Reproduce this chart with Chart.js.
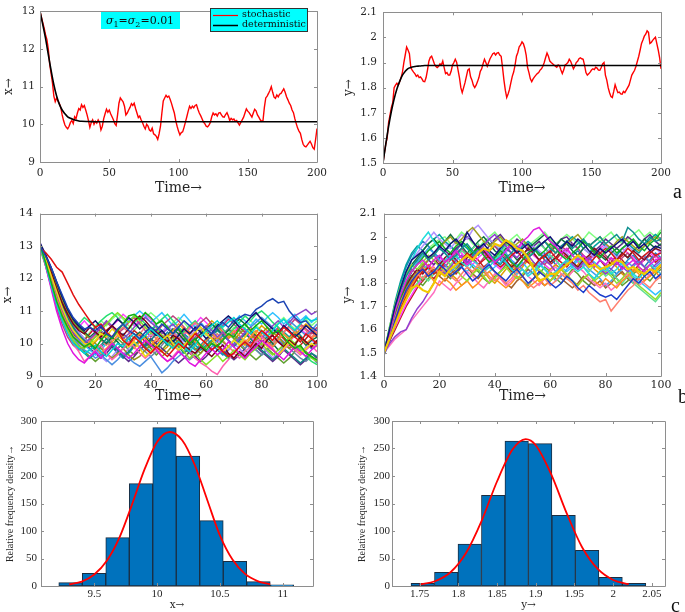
<!DOCTYPE html>
<html><head><meta charset="utf-8">
<script src="https://cdn.jsdelivr.net/npm/chart.js@4/dist/chart.umd.min.js"></script>
<style>
body{margin:0;background:#fff;width:685px;height:612px;overflow:hidden;position:relative}
canvas{position:absolute}
.lab{position:absolute;font-family:"Liberation Serif",serif;font-size:20px;line-height:20px;color:#111}
</style></head><body>
<canvas id="a1" width="335" height="200" style="left:0;top:0"></canvas>
<canvas id="a2" width="345" height="200" style="left:340px;top:0"></canvas>
<canvas id="b1" width="335" height="205" style="left:0;top:200px"></canvas>
<canvas id="b2" width="345" height="205" style="left:340px;top:200px"></canvas>
<canvas id="c1" width="335" height="207" style="left:0;top:405px"></canvas>
<canvas id="c2" width="345" height="207" style="left:340px;top:405px"></canvas>
<div class="lab" style="left:673px;top:181px">a</div>
<div class="lab" style="left:678px;top:386px">b</div>
<div class="lab" style="left:671px;top:595px">c</div>
<script>
// ---------- tick values ----------
const topXTicks = [0,50,100,150,200];
const a1YTicks = [9,10,11,12,13];
const a2YTicks = [1.5,1.6,1.7,1.8,1.9,2,2.1];
const midXTicks = [0,20,40,60,80,100];
const b1YTicks = [9,10,11,12,13,14];
const b2YTicks = [1.4,1.5,1.6,1.7,1.8,1.9,2,2.1];
const c1XTicks = [9.5,10,10.5,11];
const c2XTicks = [1.75,1.8,1.85,1.9,1.95,2,2.05];
const cYTicks = [0,50,100,150,200,250,300];

// ---------- panel a : single path, t = 0..200 step 1 ----------
const stochX = [
13.0,12.85,12.7,12.55,12.38,12.25,12.0,11.6,11.35,11.1,
10.75,10.6,10.7,10.62,10.55,10.45,10.25,10.1,9.98,9.92,
9.88,9.95,10.05,10.1,10.02,10.2,10.15,10.3,10.42,10.38,
10.52,10.45,10.5,10.38,10.25,10.1,9.92,10.05,10.12,10.0,
10.08,10.03,10.12,10.05,9.85,9.95,10.15,10.28,10.4,10.32,
10.38,10.28,10.2,10.12,10.02,9.97,10.25,10.56,10.7,10.65,
10.6,10.48,10.25,10.3,10.38,10.45,10.55,10.5,10.56,10.42,
10.3,10.18,10.22,10.12,10.05,9.95,9.88,10.0,9.95,9.85,
9.82,9.9,9.75,9.72,9.68,9.6,9.75,9.95,10.3,10.62,
10.7,10.77,10.72,10.75,10.66,10.55,10.42,10.3,10.1,9.95,
9.82,9.72,9.78,9.8,9.92,10.06,10.2,10.35,10.48,10.42,
10.48,10.44,10.5,10.52,10.4,10.3,10.23,10.15,10.06,10.02,
9.95,9.93,9.98,10.05,10.2,10.3,10.25,10.28,10.22,10.3,
10.31,10.25,10.2,10.19,10.26,10.31,10.22,10.1,10.16,10.12,
10.14,10.08,10.1,10.04,9.98,10.05,10.12,10.19,10.3,10.41,
10.35,10.31,10.25,10.19,10.3,10.4,10.36,10.25,10.19,10.12,
10.08,10.1,10.45,10.7,10.75,10.82,10.9,11.0,10.85,10.72,
10.69,10.78,10.73,10.8,10.82,10.88,10.94,10.85,10.73,10.65,
10.56,10.5,10.38,10.31,10.15,10.02,9.9,9.82,9.76,9.6,
9.47,9.42,9.4,9.45,9.5,9.55,9.48,9.38,9.34,9.6,
9.89];
const stochY = [
1.5,1.54,1.575,1.6,1.66,1.69,1.72,1.74,1.8,1.81,
1.818,1.81,1.824,1.84,1.862,1.9,1.93,1.962,1.95,1.935,
1.88,1.87,1.862,1.855,1.845,1.85,1.84,1.843,1.835,1.825,
1.824,1.84,1.87,1.905,1.92,1.925,1.91,1.894,1.885,1.88,
1.885,1.895,1.89,1.906,1.88,1.856,1.86,1.85,1.85,1.865,
1.89,1.9,1.913,1.9,1.87,1.84,1.8,1.78,1.8,1.82,
1.845,1.87,1.875,1.843,1.83,1.81,1.8,1.81,1.824,1.84,
1.865,1.875,1.895,1.913,1.9,1.885,1.9,1.915,1.925,1.935,
1.938,1.93,1.938,1.94,1.93,1.925,1.88,1.83,1.79,1.761,
1.775,1.793,1.82,1.845,1.862,1.89,1.925,1.94,1.963,1.97,
1.982,1.975,1.957,1.93,1.881,1.86,1.835,1.824,1.835,1.843,
1.85,1.856,1.86,1.87,1.875,1.885,1.9,1.92,1.938,1.925,
1.906,1.9,1.895,1.89,1.885,1.881,1.89,1.887,1.87,1.856,
1.87,1.89,1.894,1.9,1.913,1.905,1.89,1.875,1.885,1.9,
1.905,1.915,1.919,1.915,1.913,1.89,1.86,1.85,1.855,1.862,
1.87,1.875,1.872,1.881,1.878,1.87,1.869,1.88,1.895,1.9,
1.85,1.83,1.8,1.78,1.765,1.761,1.785,1.812,1.795,1.78,
1.782,1.775,1.774,1.785,1.78,1.79,1.8,1.81,1.83,1.85,
1.86,1.869,1.885,1.905,1.925,1.95,1.976,1.99,2.005,2.013,
2.026,2.02,1.976,1.98,1.988,1.995,2.001,1.975,1.95,1.92,
1.875];
const detT = [0,2,4,6,8,10,12,14,16,18,20,22,24,26,28,30,35,40,60,200];
const detX = [13,12.65,12.28,11.85,11.43,11.05,10.75,10.53,10.38,10.28,10.2,10.16,10.13,10.11,10.09,10.08,10.075,10.07,10.07,10.07];
const detY = [1.5,1.575,1.645,1.705,1.755,1.795,1.825,1.85,1.865,1.876,1.88,1.883,1.885,1.886,1.887,1.888,1.888,1.888,1.888,1.888];

// ---------- panel b : sample paths, t = 0..100 step 2 ----------
const tMid = [0,2,4,6,8,10,12,14,16,18,20,22,24,26,28,30,32,34,36,38,40,42,44,46,48,50,52,54,56,58,60,62,64,66,68,70,72,74,76,78,80,82,84,86,88,90,92,94,96,98,100];
const xRuns = [
[13.0,12.7,12.35,11.9,11.5,11.1,10.8,10.6,10.45,10.5, 10.4,10.55,10.3,10.2,10.45,10.6,10.4,10.3,10.15,10.35, 10.5,10.4,10.6,10.45,10.3,10.5,10.7,10.55,10.4,10.6, 10.45,10.3,10.5,10.65,10.5,10.7,10.8,10.9,10.85,11.05, 11.15,11.3,11.38,11.25,11.3,11.0,10.8,10.65,10.7,10.5, 10.4],
[13.05,12.5,11.9,11.3,10.85,10.5,10.2,10.05,9.9,10.0, 9.85,10.1,10.3,10.15,10.4,10.6,10.85,10.9,10.75,10.95, 10.8,10.6,10.7,10.5,10.3,10.45,10.2,10.0,10.15,9.95, 9.8,10.0,9.9,10.1,10.3,10.2,10.45,10.6,10.4,10.55, 10.7,10.5,10.3,10.4,10.2,10.0,9.85,9.95,9.7,9.6, 9.5],
[12.95,12.8,12.6,12.35,12.2,11.85,11.5,11.2,10.95,10.7, 10.5,10.6,10.35,10.2,10.4,10.1,9.95,10.2,10.05,9.85, 9.7,9.9,9.75,9.6,9.8,10.0,9.85,10.1,10.3,10.15, 10.0,9.8,9.95,9.75,9.6,9.7,9.9,10.05,9.9,10.2, 10.4,10.25,10.1,10.3,10.5,10.35,10.2,10.05,10.3,10.15, 10.0],
[13.0,12.45,11.8,11.2,10.7,10.3,10.0,9.85,9.7,9.8, 9.95,9.75,9.6,9.8,10.0,9.9,10.15,10.3,10.1,10.25, 10.45,10.3,10.15,10.0,9.85,10.05,9.9,9.75,9.95,10.2, 10.4,10.55,10.7,10.5,10.65,10.8,10.6,10.45,10.3,10.5, 10.35,10.2,10.4,10.6,10.75,10.55,10.4,10.6,10.8,10.7, 10.75],
[13.0,12.4,11.7,11.0,10.45,10.0,9.7,9.5,9.4,9.6, 9.75,9.55,9.8,10.0,9.85,9.7,9.55,9.7,9.9,10.1, 9.95,9.8,9.6,9.45,9.55,9.75,9.6,9.4,9.3,9.5, 9.7,9.85,9.65,9.8,10.05,9.9,9.7,9.55,9.75,9.9, 10.1,9.95,9.8,9.65,9.5,9.7,9.9,9.75,9.6,9.8, 9.95],
[13.0,12.6,12.1,11.6,11.1,10.7,10.4,10.2,10.0,9.95, 10.1,10.3,10.2,10.45,10.3,10.1,9.9,10.05,9.85,9.6, 9.75,9.9,10.1,10.25,10.0,9.8,9.95,10.15,10.35,10.5, 10.3,10.15,9.9,9.75,9.9,10.1,9.95,10.2,10.45,10.3, 10.1,9.9,9.8,9.65,9.85,10.05,9.9,9.7,9.85,10.0, 9.9],
[13.0,12.65,12.2,11.7,11.25,10.9,10.6,10.4,10.3,10.5, 10.35,10.2,10.4,10.55,10.4,10.25,10.45,10.7,10.85,10.7, 10.5,10.35,10.2,10.05,10.25,10.15,9.95,9.8,9.7,9.9, 9.75,9.6,9.8,9.95,9.7,9.55,9.75,9.6,9.8,10.0, 9.85,10.1,10.25,10.05,9.9,10.1,9.95,10.2,10.05,9.9, 10.1],
[13.1,12.75,12.35,11.9,11.45,11.05,10.75,10.55,10.4,10.55, 10.7,10.5,10.35,10.55,10.75,10.6,10.8,10.65,10.45,10.6, 10.4,10.25,10.4,10.2,10.05,10.25,10.45,10.3,10.5,10.35, 10.15,10.3,10.55,10.7,10.85,10.7,10.5,10.6,10.8,10.95, 10.75,10.6,10.45,10.3,10.55,10.4,10.2,10.35,10.55,10.4, 10.25],
[12.9,12.4,11.85,11.3,10.8,10.4,10.1,9.9,9.85,10.0, 10.2,10.4,10.6,10.8,10.95,10.8,10.65,10.85,10.7,10.5, 10.3,10.45,10.25,10.05,9.85,9.95,9.75,9.55,9.7,9.5, 9.35,9.5,9.65,9.45,9.6,9.8,9.65,9.5,9.7,9.85, 10.0,9.8,9.65,9.8,9.95,10.15,10.0,9.85,9.7,9.55, 9.45],
[13.0,12.5,11.9,11.3,10.8,10.35,10.0,9.75,9.45,9.6, 9.8,9.95,9.7,9.5,9.65,9.85,10.05,9.9,9.7,9.55, 9.7,9.85,9.6,9.45,9.6,9.8,9.95,9.75,9.55,9.4, 9.3,9.15,9.05,9.3,9.5,9.7,9.55,9.75,9.9,10.05, 10.2,10.0,9.85,9.65,9.8,10.0,9.8,9.65,9.8,9.95, 9.75],
[13.05,12.6,12.1,11.55,11.05,10.65,10.35,10.15,10.0,10.15, 10.3,10.5,10.7,10.55,10.35,10.15,10.3,10.5,10.65,10.8, 10.65,10.5,10.3,10.45,10.6,10.4,10.25,10.05,10.2,10.4, 10.55,10.4,10.2,10.35,10.1,9.95,10.15,10.35,10.5,10.3, 10.15,10.35,10.55,10.7,10.5,10.65,10.85,10.95,11.05,10.9, 11.0],
[13.0,12.55,12.0,11.45,10.95,10.55,10.25,10.05,9.9,10.05, 9.9,9.7,9.85,10.05,10.25,10.1,9.9,10.1,10.3,10.15, 9.95,10.15,10.35,10.2,10.4,10.6,10.45,10.25,10.05,9.9, 10.1,10.3,10.15,10.35,10.2,10.4,10.25,10.05,10.2,10.4, 10.25,10.05,9.9,10.1,10.3,10.15,10.35,10.2,10.0,10.15, 10.3],
[13.0,12.6,12.15,11.65,11.2,10.8,10.5,10.25,10.1,9.95, 9.8,9.95,10.15,9.95,9.8,9.6,9.75,9.95,10.1,9.9, 10.1,10.3,10.15,9.95,10.1,9.9,9.7,9.85,10.05,9.9, 10.1,10.25,10.4,10.25,10.1,9.9,10.1,10.3,10.15,9.95, 9.8,9.65,9.5,9.65,9.85,9.7,9.55,9.4,9.55,9.7, 9.6],
[12.95,12.6,12.2,11.75,11.3,10.95,10.65,10.45,10.3,10.15, 10.0,9.85,9.7,9.55,9.7,9.85,9.65,9.5,9.6,9.8, 9.95,9.8,9.6,9.75,9.95,10.1,9.9,10.05,9.85,9.7, 9.9,10.05,10.2,10.05,9.9,10.1,10.3,10.45,10.3,10.1, 10.3,10.5,10.35,10.2,10.0,9.85,10.0,10.2,10.05,9.9, 10.05],
[13.0,12.55,12.0,11.45,10.95,10.5,10.2,9.95,9.8,9.7, 9.55,9.65,9.5,9.35,9.5,9.7,9.55,9.4,9.3,9.45, 9.6,9.35,9.1,9.25,9.45,9.6,9.75,9.9,10.05,9.9, 9.75,9.9,10.1,10.25,10.1,9.95,10.15,10.3,10.5,10.65, 10.8,10.65,10.5,10.35,10.5,10.7,10.55,10.4,10.25,10.4, 10.6],
[13.0,12.7,12.3,11.85,11.4,11.0,10.7,10.5,10.35,10.2, 10.35,10.15,10.0,10.2,10.05,9.85,10.0,10.2,10.35,10.2, 10.0,9.85,10.05,10.25,10.45,10.3,10.1,9.95,10.1,10.3, 10.45,10.6,10.45,10.25,10.4,10.6,10.75,10.6,10.4,10.25, 10.05,10.2,10.0,9.8,9.95,10.15,10.3,10.15,9.95,10.1, 10.2],
[13.0,12.5,11.95,11.4,10.9,10.5,10.2,10.0,9.9,10.1, 10.25,10.1,9.95,10.15,10.35,10.5,10.35,10.15,10.3,10.5, 10.35,10.15,10.0,10.2,10.35,10.15,10.3,10.5,10.65,10.5, 10.3,10.15,10.3,10.1,9.9,9.75,9.9,10.1,9.95,10.15, 10.35,10.2,10.0,10.15,10.35,10.5,10.35,10.55,10.4,10.2, 10.35],
[13.1,12.7,12.25,11.75,11.3,10.9,10.6,10.35,10.15,9.95, 9.8,9.6,9.45,9.6,9.8,9.65,9.85,10.05,9.9,10.1, 10.3,10.15,10.35,10.55,10.4,10.2,10.05,10.2,10.4,10.6, 10.45,10.3,10.1,9.95,9.8,10.0,9.85,9.65,9.85,10.05, 9.9,9.75,9.55,9.7,9.9,10.05,9.85,9.7,9.9,10.1, 9.95],
[13.0,12.6,12.1,11.55,11.05,10.65,10.4,10.6,10.8,10.65, 10.5,10.7,10.85,10.95,10.8,10.6,10.45,10.65,10.8,10.6, 10.4,10.6,10.75,10.9,10.7,10.5,10.35,10.55,10.7,10.5, 10.3,10.45,10.6,10.45,10.25,10.45,10.65,10.85,10.7,10.9, 11.0,10.85,10.65,10.5,10.3,10.15,9.95,9.8,9.6,9.45, 9.35],
[13.0,12.65,12.25,11.8,11.35,10.95,10.6,10.35,10.15,10.05, 10.2,10.4,10.25,10.05,9.85,10.0,10.2,10.05,9.9,9.75, 9.6,9.75,9.95,10.15,10.0,9.8,9.6,9.5,9.65,9.85, 10.05,10.25,10.45,10.3,10.45,10.25,10.05,9.85,10.0,9.8, 9.65,9.8,10.0,10.2,10.05,9.85,9.7,9.55,9.45,9.6, 9.4],
[13.0,12.4,11.75,11.1,10.6,10.2,9.95,9.8,9.9,10.1, 10.3,10.5,10.65,10.5,10.3,10.45,10.65,10.8,10.6,10.4, 10.2,10.35,10.55,10.7,10.85,10.7,10.5,10.3,10.45,10.65, 10.8,10.6,10.4,10.55,10.75,10.6,10.4,10.2,10.35,10.15, 9.95,10.1,10.3,10.5,10.35,10.55,10.75,10.6,10.45,10.3, 10.5],
[13.05,12.65,12.2,11.7,11.2,10.75,10.4,10.1,9.95,9.8, 9.65,9.8,10.0,10.15,10.35,10.5,10.7,10.85,11.0,10.85, 10.65,10.8,10.95,10.75,10.55,10.7,10.9,10.7,10.5,10.65, 10.45,10.25,10.4,10.6,10.8,10.65,10.85,10.7,10.55,10.75, 10.6,10.8,10.95,10.8,10.6,10.75,10.9,10.7,10.85,10.65, 10.8],
[12.95,12.5,12.0,11.5,11.0,10.6,10.3,10.1,9.95,9.85, 9.7,9.55,9.7,9.9,9.75,9.6,9.45,9.6,9.8,9.95, 10.15,10.0,9.85,9.7,9.55,9.4,9.55,9.75,9.6,9.45, 9.6,9.8,9.95,9.8,9.65,9.5,9.65,9.85,10.05,9.9, 9.75,9.6,9.45,9.6,9.8,9.65,9.5,9.35,9.5,9.7, 9.55],
[13.0,12.6,12.15,11.7,11.25,10.85,10.5,10.25,10.05,9.9, 10.05,10.25,10.4,10.55,10.35,10.2,10.0,9.85,10.05,10.25, 10.1,9.9,9.75,9.9,10.1,10.3,10.5,10.35,10.15,10.3, 10.5,10.7,10.55,10.35,10.15,10.3,10.1,9.95,10.15,10.35, 10.55,10.4,10.25,10.45,10.3,10.1,10.25,10.45,10.6,10.45, 10.3],
[13.0,12.45,11.85,11.25,10.75,10.35,10.05,9.85,9.7,9.55, 9.7,9.9,10.05,9.9,9.7,9.55,9.7,9.9,10.1,10.25, 10.4,10.55,10.4,10.2,10.35,10.5,10.3,10.15,9.95,9.8, 9.95,10.1,9.9,9.7,9.55,9.7,9.9,10.1,9.95,9.8, 9.65,9.8,10.0,10.15,10.35,10.2,10.4,10.25,10.05,9.9, 10.1],
[13.1,12.6,12.05,11.5,11.0,10.6,10.3,10.5,10.7,10.5, 10.3,10.15,10.35,10.55,10.7,10.9,10.75,10.55,10.7,10.9, 10.75,10.55,10.35,10.5,10.3,10.1,10.25,10.45,10.6,10.8, 10.65,10.45,10.6,10.4,10.2,10.35,10.55,10.4,10.2,10.05, 10.2,10.4,10.25,10.05,9.9,10.05,10.25,10.45,10.3,10.5, 10.35],
[13.0,12.55,12.05,11.5,11.0,10.55,10.2,9.95,9.75,9.6, 9.45,9.6,9.8,9.95,10.15,10.0,9.8,9.65,9.8,10.0, 9.85,9.65,9.8,10.0,10.2,10.05,9.85,9.7,9.55,9.7, 9.9,10.1,9.95,10.15,10.3,10.15,9.95,9.8,9.65,9.5, 9.65,9.85,9.7,9.55,9.4,9.55,9.75,9.9,9.75,9.6, 9.45],
[13.0,12.6,12.15,11.65,11.15,10.75,10.45,10.25,10.1,10.3, 10.5,10.35,10.15,10.0,9.85,10.0,10.2,10.4,10.25,10.05, 9.9,10.05,10.25,10.1,9.95,9.8,9.95,10.15,10.35,10.2, 10.4,10.2,10.05,10.25,10.45,10.3,10.5,10.35,10.15,10.3, 10.1,9.95,10.1,10.3,10.15,9.95,9.8,9.95,10.15,10.35, 10.2],
[13.05,12.7,12.3,11.8,11.3,10.9,10.55,10.3,10.1,9.95, 9.8,9.65,9.8,9.95,10.15,10.3,10.15,9.95,10.1,9.9, 9.75,9.95,10.15,10.35,10.2,10.0,10.15,9.95,9.8,9.95, 10.15,10.0,9.8,9.65,9.8,10.0,10.2,10.0,9.85,10.05, 10.25,10.1,9.9,10.1,9.95,10.15,10.35,10.2,10.0,9.85, 10.0],
[12.95,12.45,11.9,11.35,10.85,10.45,10.15,10.0,10.15,10.35, 10.55,10.7,10.55,10.75,10.9,10.75,10.55,10.4,10.6,10.8, 10.95,10.8,10.6,10.45,10.65,10.8,10.65,10.45,10.6,10.4, 10.25,10.45,10.3,10.1,10.3,10.5,10.35,10.5,10.7,10.55, 10.4,10.25,10.45,10.65,10.8,10.6,10.45,10.6,10.75,10.55, 10.7]
];
const xRunColors = ['#1c44b4','#12b012','#e01010','#00d4d4','#e014e0','#eedc10','#7a0018','#10106e','#84e024','#ff5fb0','#8a46c8','#ff8a30','#108484','#94941a','#4a8ee0','#0a7040','#f07878','#a888ff','#26e070','#6a86a8','#c04080','#30c0ff','#5a2a8a','#e0a000','#00a0a0','#ff40ff','#60a030','#c02020','#2080c0','#80ff80'];

const yGold = [1.5,1.56,1.62,1.68,1.73,1.78,1.79,1.77,1.76,1.8, 1.85,1.83,1.86,1.88,1.9,1.92,1.9,1.93,1.95,1.94, 1.97,1.96,1.985,1.97,1.95,1.94,1.91,1.86,1.81,1.82, 1.84,1.84,1.86,1.88,1.9,1.92,1.9,1.87,1.88,1.86, 1.87,1.88,1.9,1.89,1.86,1.87,1.85,1.84,1.86,1.85, 1.88];
const yRuns = [
[1.5,1.6,1.7,1.78,1.85,1.9,1.92,1.94,1.91,1.93, 1.96,1.94,1.97,1.99,1.96,2.02,1.98,1.95,1.97,1.94, 1.92,1.95,1.98,1.96,1.93,1.95,1.97,1.94,1.96,1.98, 2.0,1.97,1.95,1.98,1.96,1.99,1.97,1.94,1.92,1.95, 1.93,1.95,1.97,1.99,1.96,1.98,1.95,1.97,1.94,1.96, 1.95],
[1.49,1.56,1.64,1.71,1.77,1.81,1.84,1.86,1.83,1.85, 1.88,1.86,1.83,1.85,1.87,1.84,1.81,1.83,1.86,1.88, 1.85,1.83,1.81,1.84,1.86,1.83,1.8,1.82,1.85,1.83, 1.8,1.78,1.8,1.83,1.81,1.78,1.76,1.79,1.77,1.75, 1.74,1.75,1.73,1.76,1.79,1.82,1.8,1.83,1.85,1.82, 1.84],
[1.5,1.59,1.68,1.75,1.81,1.85,1.88,1.9,1.87,1.9, 1.92,1.89,1.91,1.94,1.91,1.88,1.9,1.93,1.95,1.92, 1.89,1.91,1.94,1.97,1.95,1.98,2.0,2.03,2.04,2.01, 1.98,1.96,1.93,1.95,1.92,1.9,1.92,1.89,1.87,1.9, 1.88,1.91,1.89,1.86,1.88,1.9,1.87,1.85,1.88,1.9, 1.91],
[1.5,1.57,1.65,1.72,1.77,1.81,1.84,1.82,1.85,1.87, 1.84,1.86,1.83,1.81,1.84,1.87,1.85,1.88,1.86,1.83, 1.81,1.83,1.8,1.82,1.85,1.83,1.8,1.78,1.8,1.82, 1.79,1.81,1.84,1.82,1.8,1.77,1.79,1.76,1.74,1.72, 1.73,1.68,1.71,1.74,1.77,1.79,1.82,1.8,1.78,1.81, 1.83],
[1.5,1.6,1.69,1.77,1.83,1.87,1.9,1.93,1.9,1.92, 1.95,1.93,1.9,1.92,1.95,1.97,1.94,1.92,1.95,1.93, 1.9,1.88,1.91,1.93,1.96,1.94,1.91,1.93,1.96,1.98, 1.95,1.93,1.96,1.98,1.95,1.97,1.99,1.96,1.98,2.0, 1.97,1.99,2.01,1.98,2.04,2.02,1.99,1.97,2.0,1.98, 1.99],
[1.5,1.6,1.7,1.78,1.85,1.9,1.95,1.99,2.02,1.98, 1.95,1.93,1.9,1.92,1.89,1.87,1.9,1.88,1.85,1.87, 1.9,1.92,1.89,1.86,1.84,1.86,1.83,1.85,1.88,1.86, 1.83,1.85,1.88,1.9,1.87,1.85,1.87,1.84,1.82,1.85, 1.87,1.84,1.86,1.89,1.87,1.84,1.82,1.85,1.88,1.86, 1.84],
[1.5,1.58,1.66,1.74,1.8,1.85,1.88,1.91,1.94,1.96, 1.98,1.95,1.93,1.96,1.98,1.96,1.93,1.95,1.92,1.89, 1.91,1.94,1.92,1.89,1.87,1.9,1.93,1.95,1.92,1.94, 1.97,1.95,1.92,1.9,1.93,1.95,1.98,1.96,1.93,1.91, 1.94,1.96,1.93,1.95,1.97,1.99,1.96,1.94,1.97,1.99, 2.02],
[1.5,1.56,1.63,1.69,1.74,1.78,1.82,1.85,1.87,1.84, 1.86,1.89,1.91,1.88,1.9,1.93,1.91,1.88,1.9,1.92, 1.89,1.87,1.89,1.92,1.94,1.91,1.89,1.87,1.9,1.92, 1.94,1.91,1.89,1.87,1.9,1.92,1.9,1.88,1.91,1.93, 1.95,1.93,1.9,1.92,1.95,1.93,1.9,1.92,1.94,1.92, 1.93],
[1.5,1.54,1.57,1.59,1.6,1.65,1.69,1.72,1.76,1.8, 1.86,1.84,1.87,1.9,1.92,1.89,1.91,1.94,1.96,1.99, 2.01,1.98,1.96,1.93,1.91,1.94,1.92,1.89,1.87,1.9, 1.88,1.85,1.87,1.9,1.88,1.86,1.89,1.91,1.88,1.86, 1.84,1.86,1.89,1.87,1.85,1.88,1.9,1.87,1.85,1.88, 1.9],
[1.5,1.61,1.71,1.79,1.84,1.88,1.86,1.89,1.92,1.9, 1.87,1.85,1.88,1.86,1.83,1.81,1.84,1.86,1.83,1.8, 1.82,1.85,1.87,1.84,1.82,1.84,1.87,1.89,1.86,1.84, 1.81,1.83,1.86,1.84,1.81,1.79,1.82,1.84,1.81,1.83, 1.85,1.83,1.8,1.82,1.85,1.82,1.79,1.77,1.75,1.73, 1.76],
[1.5,1.57,1.64,1.7,1.75,1.79,1.83,1.86,1.84,1.81, 1.79,1.82,1.8,1.77,1.79,1.81,1.78,1.8,1.83,1.85, 1.82,1.8,1.78,1.8,1.83,1.81,1.78,1.8,1.82,1.79, 1.81,1.84,1.86,1.83,1.81,1.79,1.82,1.84,1.81,1.79, 1.82,1.8,1.78,1.81,1.83,1.86,1.84,1.81,1.83,1.85, 1.82],
[1.5,1.59,1.67,1.74,1.79,1.83,1.86,1.84,1.87,1.9, 1.88,1.91,1.93,1.9,1.88,1.91,1.93,1.96,1.94,1.91, 1.89,1.92,1.9,1.87,1.89,1.92,1.95,1.93,1.9,1.92, 1.89,1.91,1.94,1.92,1.89,1.87,1.9,1.92,1.95,1.93, 1.91,1.88,1.9,1.93,1.91,1.94,1.92,1.9,1.93,1.95, 1.94],
[1.5,1.56,1.62,1.68,1.73,1.77,1.8,1.83,1.81,1.84, 1.87,1.9,1.88,1.91,1.94,1.92,1.95,1.97,1.94,1.92, 1.9,1.93,1.96,1.98,1.95,1.93,1.91,1.94,1.97,1.95, 1.92,1.9,1.87,1.89,1.92,1.9,1.87,1.85,1.88,1.86, 1.83,1.85,1.82,1.8,1.83,1.8,1.78,1.76,1.74,1.72, 1.75],
[1.5,1.58,1.66,1.72,1.78,1.82,1.85,1.88,1.9,1.93, 1.95,1.98,2.0,1.97,1.99,2.02,2.04,2.01,1.98,1.96, 1.98,2.0,1.97,1.95,1.97,1.99,1.96,1.94,1.96,1.98, 1.96,1.93,1.95,1.97,1.99,2.01,1.98,1.96,1.98,2.0, 1.97,1.95,1.98,2.0,1.98,1.96,1.94,1.96,1.98,2.0, 1.98],
[1.5,1.53,1.56,1.58,1.6,1.64,1.67,1.7,1.73,1.76, 1.81,1.79,1.77,1.8,1.82,1.85,1.83,1.8,1.78,1.81, 1.84,1.82,1.79,1.81,1.84,1.86,1.83,1.81,1.79,1.82, 1.85,1.87,1.84,1.82,1.85,1.87,1.85,1.82,1.8,1.78, 1.8,1.77,1.79,1.82,1.84,1.81,1.79,1.81,1.84,1.86, 1.84],
[1.49,1.57,1.66,1.74,1.8,1.85,1.89,1.92,1.95,1.93, 1.9,1.88,1.85,1.87,1.9,1.93,1.91,1.88,1.86,1.89, 1.92,1.95,1.93,1.9,1.88,1.86,1.84,1.87,1.89,1.86, 1.84,1.81,1.83,1.86,1.88,1.91,1.89,1.86,1.84,1.82, 1.79,1.81,1.84,1.86,1.89,1.87,1.9,1.92,1.89,1.87, 1.89],
[1.5,1.6,1.7,1.78,1.84,1.88,1.91,1.94,1.97,1.99, 1.96,1.98,2.01,1.98,1.96,1.93,1.95,1.98,2.0,1.97, 1.94,1.92,1.95,1.93,1.9,1.92,1.95,1.97,1.99,2.01, 1.98,1.96,1.99,1.97,1.94,1.92,1.95,1.97,1.94,1.92, 1.9,1.93,1.95,1.93,1.91,1.94,1.96,1.99,1.97,1.95, 1.97],
[1.5,1.57,1.64,1.71,1.76,1.8,1.83,1.81,1.84,1.86, 1.83,1.81,1.84,1.86,1.89,1.87,1.84,1.82,1.85,1.87, 1.85,1.82,1.8,1.78,1.81,1.83,1.86,1.84,1.81,1.79, 1.81,1.84,1.82,1.8,1.78,1.8,1.83,1.81,1.79,1.81, 1.78,1.8,1.83,1.85,1.82,1.8,1.83,1.86,1.88,1.85, 1.87],
[1.5,1.6,1.7,1.78,1.84,1.9,1.93,1.96,1.99,2.02, 1.99,1.97,1.95,1.98,2.01,1.99,2.03,2.05,2.02,1.99, 1.97,1.95,1.93,1.96,1.94,1.91,1.93,1.96,1.94,1.92, 1.95,1.97,1.95,1.93,1.9,1.92,1.95,1.93,1.91,1.94, 1.96,1.94,1.91,1.93,1.96,1.94,1.92,1.9,1.93,1.95, 1.93],
[1.5,1.58,1.67,1.75,1.81,1.86,1.84,1.87,1.9,1.92, 1.89,1.87,1.9,1.93,1.95,1.92,1.9,1.88,1.91,1.94, 1.96,1.93,1.91,1.89,1.86,1.88,1.91,1.93,1.9,1.88, 1.91,1.93,1.96,1.94,1.97,1.95,1.92,1.9,1.93,1.95, 1.92,1.9,1.88,1.91,1.93,1.9,1.88,1.91,1.89,1.92, 1.9],
[1.5,1.59,1.69,1.77,1.83,1.87,1.9,1.88,1.86,1.84, 1.87,1.9,1.92,1.89,1.87,1.85,1.88,1.86,1.83,1.85, 1.87,1.89,1.92,1.9,1.87,1.89,1.86,1.84,1.87,1.89, 1.92,1.9,1.87,1.85,1.87,1.9,1.88,1.91,1.89,1.87, 1.85,1.88,1.9,1.88,1.86,1.83,1.81,1.79,1.77,1.75, 1.77],
[1.49,1.55,1.62,1.69,1.75,1.8,1.84,1.87,1.9,1.88, 1.91,1.94,1.92,1.95,1.97,2.0,1.98,1.95,1.93,1.96, 1.99,2.01,1.98,1.96,1.99,1.97,1.94,1.96,1.98,1.95, 1.93,1.96,1.99,2.0,1.97,1.95,1.98,1.96,1.94,1.96, 1.99,1.97,1.95,1.97,2.0,1.98,1.96,1.99,2.01,1.98, 1.96],
[1.5,1.57,1.63,1.7,1.76,1.8,1.83,1.86,1.88,1.85, 1.83,1.86,1.84,1.82,1.79,1.81,1.84,1.87,1.85,1.82, 1.8,1.83,1.86,1.88,1.85,1.87,1.9,1.88,1.85,1.83, 1.86,1.88,1.86,1.83,1.85,1.88,1.91,1.89,1.86,1.84, 1.86,1.89,1.87,1.84,1.82,1.85,1.87,1.85,1.83,1.86, 1.88],
[1.5,1.61,1.72,1.81,1.88,1.93,1.96,1.94,1.97,1.99, 2.01,1.98,1.96,1.94,1.97,1.95,1.92,1.94,1.97,1.99, 1.96,1.94,1.97,1.95,1.93,1.96,1.98,1.96,1.93,1.91, 1.94,1.97,1.95,1.98,2.0,1.98,1.95,1.93,1.96,1.98, 1.96,1.94,1.92,1.95,1.97,1.95,1.93,1.96,1.99,2.01, 1.99],
[1.5,1.56,1.61,1.66,1.71,1.75,1.79,1.82,1.85,1.88, 1.91,1.89,1.92,1.95,1.93,1.9,1.88,1.91,1.93,1.9, 1.88,1.86,1.89,1.91,1.94,1.97,1.95,1.92,1.9,1.88, 1.86,1.88,1.91,1.94,1.92,1.89,1.87,1.9,1.92,1.95, 1.97,1.94,1.92,1.95,1.93,1.91,1.88,1.9,1.93,1.91, 1.94],
[1.5,1.58,1.66,1.73,1.79,1.83,1.81,1.79,1.82,1.85, 1.87,1.84,1.82,1.85,1.88,1.9,1.87,1.85,1.82,1.8, 1.83,1.85,1.88,1.86,1.83,1.81,1.79,1.82,1.84,1.87, 1.85,1.82,1.8,1.83,1.86,1.84,1.81,1.79,1.82,1.85, 1.87,1.84,1.82,1.79,1.81,1.84,1.86,1.83,1.81,1.84, 1.86],
[1.5,1.6,1.71,1.8,1.87,1.92,1.95,1.98,1.96,1.93, 1.91,1.94,1.96,1.93,1.91,1.89,1.92,1.95,1.93,1.9, 1.88,1.91,1.89,1.86,1.89,1.92,1.9,1.87,1.9,1.93, 1.91,1.88,1.86,1.89,1.92,1.94,1.91,1.89,1.87,1.9, 1.88,1.86,1.84,1.87,1.9,1.92,1.89,1.87,1.9,1.93, 1.91],
[1.5,1.57,1.65,1.73,1.8,1.85,1.89,1.92,1.95,1.97, 1.99,2.0,1.97,1.99,2.02,2.0,1.97,1.95,1.98,2.0, 2.02,1.99,1.97,1.99,2.01,1.98,1.96,1.98,2.0,2.02, 1.99,1.97,1.99,2.01,1.99,1.97,1.99,2.02,2.0,1.98, 2.0,2.02,1.99,1.97,1.99,2.01,2.03,2.0,2.02,2.0, 2.03],
[1.5,1.55,1.6,1.65,1.7,1.74,1.78,1.81,1.84,1.82, 1.85,1.88,1.86,1.84,1.87,1.89,1.92,1.9,1.87,1.89, 1.92,1.9,1.88,1.85,1.87,1.9,1.92,1.95,1.93,1.9, 1.88,1.9,1.93,1.91,1.89,1.86,1.88,1.91,1.93,1.9, 1.87,1.89,1.92,1.9,1.87,1.85,1.88,1.9,1.92,1.89, 1.91]
];
const yRunColors = ['#10107a','#1a3ccc','#e020e0','#ff8070','#109090','#20dcdc','#10b020','#d01818','#9040d0','#90e030','#ff9020','#801020','#60e090','#a0a020','#ff70c0','#40a0f0','#107040','#a06030','#b090ff','#c04080','#30c0ff','#5a2a8a','#e0a000','#00a0a0','#ff40ff','#60a030','#2080c0','#80ff80','#c02020'];

// ---------- panel c : histograms ----------
const binX = [9.311,9.498,9.685,9.872,10.059,10.246,10.433,10.620,10.807,10.994];
const cntX = [6,23,88,186,288,236,119,45,8,2];
const fitXv = [9.3,9.4,9.5,9.6,9.7,9.8,9.9,10.0,10.1,10.2,10.3,10.4,10.5,10.6,10.7,10.8,10.9];
const fitXd = [3,8,21,46,88,148,212,262,280,265,220,156,92,48,22,9,3];
const binY = [1.7542,1.7845,1.8148,1.8451,1.8754,1.9057,1.936,1.9663,1.9966,2.0269];
const cntY = [4.8,24.8,76,165,263.6,258.8,128.5,64.8,15.8,4.8];
const fitYv = [1.75,1.77,1.79,1.81,1.83,1.85,1.87,1.887,1.9,1.92,1.94,1.96,1.98,2.0,2.02];
const fitYd = [2.4,8.7,25,60,118,190,248,267,256,203,132,70,31,11,3.2];

// ---------- helpers ----------
const SERIF = '"Liberation Serif", "Times New Roman", serif';
const DSERIF = '"DejaVu Serif", serif';
const INK = '#262626';

function axis(o){
  const horiz = o.pos === 'bottom';
  return {
    type:'linear', position:o.pos, min:o.min, max:o.max, offset:false, bounds:'data',
    grid:{display:false, drawTicks:false}, border:{display:false},
    afterBuildTicks: s => { s.ticks = o.ticks.map(v => ({value:v})); },
    afterFit: s => { if (horiz) s.height = o.size; else s.width = o.size; },
    ticks:{autoSkip:false, maxRotation:0, minRotation:0, padding:o.pad, color:INK,
           font:o.font, callback: v => String(v)},
    title:{display:true, text:o.title, color:INK, font:o.tfont, padding:o.tpad}
  };
}
const boxPlugin = {
  id:'boxTicks',
  afterDatasetsDraw(chart){
    const {ctx, chartArea:a, scales:{x, y}} = chart;
    ctx.save();
    ctx.strokeStyle = '#8e8e8e'; ctx.lineWidth = 1;
    ctx.beginPath();
    ctx.rect(Math.round(a.left)+0.5, Math.round(a.top)+0.5, Math.round(a.right-a.left), Math.round(a.bottom-a.top));
    x.ticks.forEach(t => {
      const p = Math.round(x.getPixelForValue(t.value))+0.5;
      ctx.moveTo(p, a.bottom); ctx.lineTo(p, a.bottom-3);
      ctx.moveTo(p, a.top); ctx.lineTo(p, a.top+3);
    });
    y.ticks.forEach(t => {
      const p = Math.round(y.getPixelForValue(t.value))+0.5;
      ctx.moveTo(a.left, p); ctx.lineTo(a.left+3, p);
      ctx.moveTo(a.right, p); ctx.lineTo(a.right-3, p);
    });
    ctx.stroke();
    ctx.restore();
  }
};
function base(pad, xAx, yAx){
  return {
    responsive:false, animation:false, devicePixelRatio:1,
    layout:{padding:pad},
    plugins:{legend:{display:false}, tooltip:{enabled:false}},
    scales:{x:xAx, y:yAx}
  };
}
const pts = (xs, ys) => ys.map((v,i) => ({x:xs[i], y:v}));
const seq = (vals, step) => vals.map((v,i) => ({x:i*step, y:v}));

// annotation of panel a (σ box + legend)
const annotA = {
  id:'annotA',
  afterDraw(chart){
    const ctx = chart.ctx;
    ctx.save();
    ctx.fillStyle = '#00ffff';
    ctx.fillRect(101, 12, 79, 17);
    ctx.fillStyle = '#111';
    ctx.textBaseline = 'alphabetic';
    let x = 106; const b = 24;
    const part = (t, f, dy) => { ctx.font = f; ctx.fillText(t, x, b+dy); x += ctx.measureText(t).width; };
    part('σ', 'italic 11px '+DSERIF, 0);
    part('1', '8px '+DSERIF, 3);
    part('=', '11px '+DSERIF, 0);
    part('σ', 'italic 11px '+DSERIF, 0);
    part('2', '8px '+DSERIF, 3);
    part('=0.01', '11px '+DSERIF, 0);
    ctx.fillStyle = '#00ffff';
    ctx.fillRect(210, 8, 98, 24);
    ctx.strokeStyle = '#333'; ctx.lineWidth = 1;
    ctx.strokeRect(210.5, 8.5, 97, 23);
    ctx.lineWidth = 1.2; ctx.strokeStyle = '#ff0000';
    ctx.beginPath(); ctx.moveTo(213, 15.5); ctx.lineTo(238, 15.5); ctx.stroke();
    ctx.lineWidth = 1.5; ctx.strokeStyle = '#000';
    ctx.beginPath(); ctx.moveTo(213, 25.5); ctx.lineTo(238, 25.5); ctx.stroke();
    ctx.fillStyle = '#111'; ctx.font = '9.5px '+DSERIF; ctx.textBaseline = 'middle';
    ctx.fillText('stochastic', 242, 15);
    ctx.fillText('deterministic', 242, 25);
    ctx.restore();
  }
};

const tickFontTop = {family:DSERIF, size:10.5};
const titleFontTop = {family:DSERIF, size:14};
const yTitleFont = {family:DSERIF, size:12};

// ---------- A1 ----------
new Chart(document.getElementById('a1'), {
  type:'line',
  data:{datasets:[
    {data:pts(detT, detX), borderColor:'#000', borderWidth:1.6, pointRadius:0, cubicInterpolationMode:'monotone'},
    {data:seq(stochX, 1), borderColor:'#ff0000', borderWidth:1.4, pointRadius:0, tension:0}
  ]},
  options: base({top:5, right:18, left:0, bottom:0},
    axis({pos:'bottom', min:0, max:200, ticks:topXTicks, size:38, pad:5, font:tickFontTop, title:'Time→', tfont:titleFontTop, tpad:{top:0,bottom:3}}),
    axis({pos:'left', min:9, max:13, ticks:a1YTicks, size:40, pad:5, font:tickFontTop, title:'x→', tfont:yTitleFont, tpad:{top:2,bottom:0}})),
  plugins:[boxPlugin, annotA]
});

// ---------- A2 ----------
new Chart(document.getElementById('a2'), {
  type:'line',
  data:{datasets:[
    {data:pts(detT, detY), borderColor:'#000', borderWidth:1.6, pointRadius:0, cubicInterpolationMode:'monotone'},
    {data:seq(stochY, 1), borderColor:'#ff0000', borderWidth:1.4, pointRadius:0, tension:0}
  ]},
  options: base({top:4, right:24, left:0, bottom:0},
    axis({pos:'bottom', min:0, max:200, ticks:topXTicks, size:37, pad:4, font:tickFontTop, title:'Time→', tfont:titleFontTop, tpad:{top:0,bottom:3}}),
    axis({pos:'left', min:1.5, max:2.1, ticks:a2YTicks, size:43, pad:6, font:tickFontTop, title:'y→', tfont:yTitleFont, tpad:{top:2,bottom:0}})),
  plugins:[boxPlugin]
});

// ---------- B1 ----------
const midTick = {family:DSERIF, size:11};
const midTitle = {family:DSERIF, size:14};
new Chart(document.getElementById('b1'), {
  type:'line',
  data:{datasets: xRuns.map((r,i) => ({data:pts(tMid, r), borderColor:xRunColors[i], borderWidth:1.5, pointRadius:0, tension:0}))},
  options: base({top:13, right:18, left:0, bottom:0},
    axis({pos:'bottom', min:0, max:100, ticks:midXTicks, size:29, pad:3, font:midTick, title:'Time→', tfont:midTitle, tpad:{top:0,bottom:0}}),
    axis({pos:'left', min:9, max:14, ticks:b1YTicks, size:40, pad:7, font:midTick, title:'x→', tfont:yTitleFont, tpad:{top:1,bottom:0}})),
  plugins:[boxPlugin]
});

// ---------- B2 ----------
const b2sets = [{data:pts(tMid, yGold), borderColor:'#f2c800', borderWidth:2.2, pointRadius:0, tension:0}]
  .concat(yRuns.map((r,i) => ({data:pts(tMid, r), borderColor:yRunColors[i], borderWidth:1.5, pointRadius:0, tension:0})));
new Chart(document.getElementById('b2'), {
  type:'line',
  data:{datasets:b2sets},
  options: base({top:13, right:24, left:0, bottom:0},
    axis({pos:'bottom', min:0, max:100, ticks:midXTicks, size:29, pad:3, font:midTick, title:'Time→', tfont:midTitle, tpad:{top:0,bottom:0}}),
    axis({pos:'left', min:1.4, max:2.1, ticks:b2YTicks, size:44, pad:7, font:midTick, title:'y→', tfont:yTitleFont, tpad:{top:1,bottom:0}})),
  plugins:[boxPlugin]
});

// ---------- C1 / C2 ----------
const cTick = {family:SERIF, size:11};
function histo(id, bins, counts, fv, fd, xmin, xmax, xticks, xTitle, yW, yPad, tPadTop, padR){
  new Chart(document.getElementById(id), {
    type:'bar',
    data:{datasets:[
      {type:'line', data:pts(fv, fd), borderColor:'#ff0000', borderWidth:1.8, pointRadius:0, cubicInterpolationMode:'monotone', order:0},
      {type:'bar', data:pts(bins, counts), backgroundColor:'#0072bd', borderColor:'#1b2d40', borderWidth:1, borderSkipped:false,
       barPercentage:1, categoryPercentage:1, order:1}
    ]},
    options: base({top:16, right:padR, left:0, bottom:0},
      axis({pos:'bottom', min:xmin, max:xmax, ticks:xticks, size:26, pad:2, font:cTick, title:xTitle, tfont:{family:DSERIF, size:10.5}, tpad:{top:0,bottom:0}}),
      axis({pos:'left', min:0, max:300, ticks:cYTicks, size:yW, pad:yPad, font:cTick, title:'Relative frequency density→', tfont:{family:SERIF, size:10}, tpad:{top:tPadTop,bottom:0}})),
    plugins:[boxPlugin]
  });
}
histo('c1', binX, cntX, fitXv, fitXd, 9.076, 11.241, c1XTicks, 'x→', 41, 4, 4, 22);
histo('c2', binY, cntY, fitYv, fitYd, 1.7145, 2.0668, c2XTicks, 'y→', 52, 2, 16, 20);
</script>
</body></html>
